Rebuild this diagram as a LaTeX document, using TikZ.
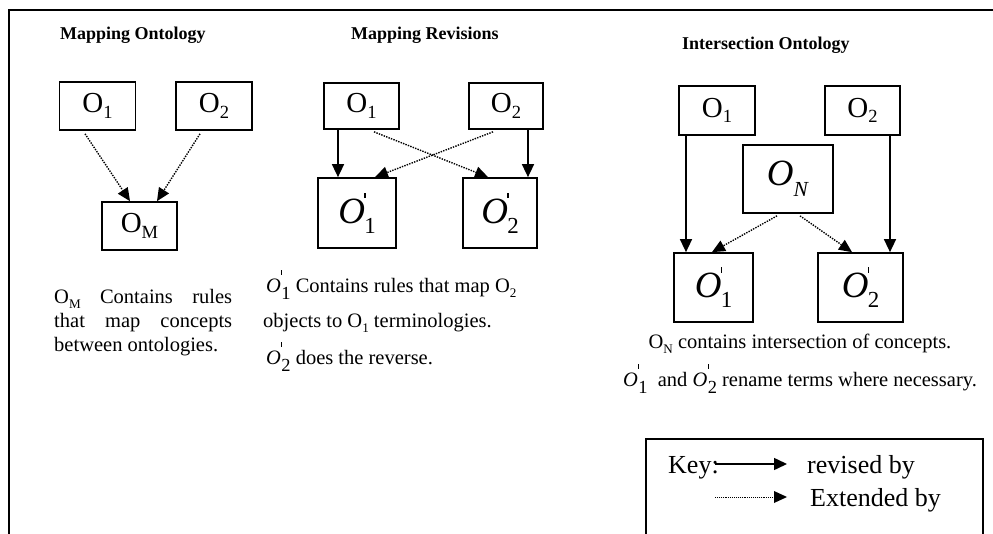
\documentclass[tikz,border=0pt]{standalone}
\usepackage{fontspec}
\usepackage{graphicx}
\setmainfont{Liberation Serif}
\usetikzlibrary{arrows.meta}
\newcommand{\OPr}[1]{\textit{O}\kern-0.02em\rlap{\raisebox{0.68em}{\rule{0.035em}{0.15em}}}\raisebox{-0.27em}{\scalebox{0.62}{#1}}}
\newcommand{\OPt}[1]{\textit{O}\kern0.02em\rlap{\raisebox{0.9em}{\rule{0.05em}{0.2em}}}\raisebox{-0.3em}{\scalebox{0.9}{#1}}}
\newcommand{\Osub}[1]{O\raisebox{-0.2em}{\scalebox{0.64}{#1}}}
\begin{document}
\begin{tikzpicture}[x=1pt,y=-1pt,
  box/.style={draw, line width=1.7pt, inner sep=0pt, font=\fontsize{29}{30}\selectfont},
  bigbox/.style={box, font=\fontsize{37}{38}\selectfont},
  title/.style={anchor=base west, inner sep=0pt, font=\fontsize{18}{20}\selectfont\bfseries},
  body/.style={anchor=base west, inner sep=0pt, font=\fontsize{20.5}{22}\selectfont},
  keytxt/.style={anchor=base west, inner sep=0pt, font=\fontsize{26}{28}\selectfont},
  rev/.style={line width=1.5pt, -{Triangle[length=13pt,width=12pt]}},
  ext/.style={line width=1.4pt, dash pattern=on 1.4pt off 1.2pt, -{Triangle[length=13pt,width=12pt,line width=0pt]}},
]
\useasboundingbox (0,0) rectangle (993,534);
% frame
\draw[line width=2pt] (9,534) -- (9,10) -- (993,10);

% titles
\node[title] (t1) at (60,40) {Mapping Ontology};
\node[title] (t2) at (351,40) {Mapping Revisions};
\node[title] (t3) at (682,50) {Intersection Ontology};

% panel 1
\node[box, minimum width=76pt, minimum height=48pt] (p1a) at (97.5,106) {\Osub{1}};
\node[box, minimum width=76pt, minimum height=48pt] (p1b) at (214,106) {\Osub{2}};
\node[box, minimum width=75pt, minimum height=48pt] (p1m) at (139.5,226) {\Osub{M}};
\draw[ext] ([xshift=-12.5pt,yshift=-3pt]p1a.south) -- ([xshift=-9.5pt]p1m.north);
\draw[ext] ([xshift=-14pt,yshift=-3pt]p1b.south) -- ([xshift=17.5pt]p1m.north);

% panel 2
\node[box, minimum width=75pt, minimum height=46pt] (p2a) at (361.5,106) {\Osub{1}};
\node[box, minimum width=74pt, minimum height=46pt] (p2b) at (506,106) {\Osub{2}};
\node[bigbox, minimum width=78pt, minimum height=70pt] (p2c) at (357,213) {\OPr{1}};
\node[bigbox, minimum width=74pt, minimum height=70pt] (p2d) at (500,213) {\OPr{2}};
\draw[rev] ([xshift=-23.5pt]p2a.south) -- ([xshift=-19pt]p2c.north);
\draw[rev] ([xshift=22pt]p2b.south) -- ([xshift=28pt]p2d.north);
\draw[ext] ([xshift=12.5pt,yshift=-2pt]p2a.south) -- ([xshift=-12pt]p2d.north);
\draw[ext] ([xshift=-13pt,yshift=-2pt]p2b.south) -- ([xshift=18pt]p2c.north);

% panel 3
\node[box, minimum width=76pt, minimum height=49pt] (p3a) at (717,110.5) {\Osub{1}};
\node[box, minimum width=75pt, minimum height=49pt] (p3b) at (862.5,110.5) {\Osub{2}};
\node[bigbox, minimum width=90pt, minimum height=68pt] (p3n) at (788,179) {\textit{O}\raisebox{-0.3em}{\scalebox{0.58}{\textit{N}}}};
\node[bigbox, minimum width=79pt, minimum height=69pt] (p3c) at (713.5,287.5) {\OPr{1}};
\node[bigbox, minimum width=85pt, minimum height=69pt] (p3d) at (860.5,287.5) {\OPr{2}};
\draw[rev] ([xshift=-31pt]p3a.south) -- ([xshift=-27.5pt]p3c.north);
\draw[rev] ([xshift=27.5pt]p3b.south) -- ([xshift=29.5pt]p3d.north);
\draw[ext] ([xshift=-11pt,yshift=-2pt]p3n.south) -- ([xshift=-1.5pt]p3c.north);
\draw[ext] ([xshift=12pt,yshift=-2pt]p3n.south) -- ([xshift=-8.5pt]p3d.north);

% panel 1 text
\node[body] (d1a) at (54,304) {\makebox[178pt][s]{\Osub{M} Contains rules}};
\node[body] (d1b) at (54,328) {\makebox[178pt][s]{that map concepts}};
\node[body] (d1c) at (54,352) {between ontologies.};

% panel 2 text
\node[body] (d2a) at (266,293) {\OPt{1}\ Contains rules that map \Osub{2}};
\node[body] (d2b) at (263,328) {objects to \Osub{1} terminologies.};
\node[body] (d2c) at (266,365) {\OPt{2}\ does the reverse.};

% panel 3 text
\node[body, anchor=base] (d3a) at (800,349) {\Osub{N} contains intersection of concepts.};
\node[body, anchor=base] (d3b) at (800,387) {\OPt{1}\ \ and \OPt{2}\ rename terms where necessary.};

% key
\draw[line width=1.6pt] (646,534) -- (646,439) -- (983,439) -- (983,534);
\node[keytxt] (klbl) at (668,473) {Key:};
\coordinate (k1s) at (715,464);
\coordinate (k1e) at (787,464);
\coordinate (k2s) at (715,497);
\coordinate (k2e) at (787,497);
\draw[rev] (k1s) -- (k1e);
\draw[ext, line width=0.9pt, dash pattern=on 0.9pt off 1pt] (k2s) -- (k2e);
\node[keytxt] (krev) at (807,473) {revised by};
\node[keytxt] (kext) at (810,506) {Extended by};
\end{tikzpicture}
\end{document}
